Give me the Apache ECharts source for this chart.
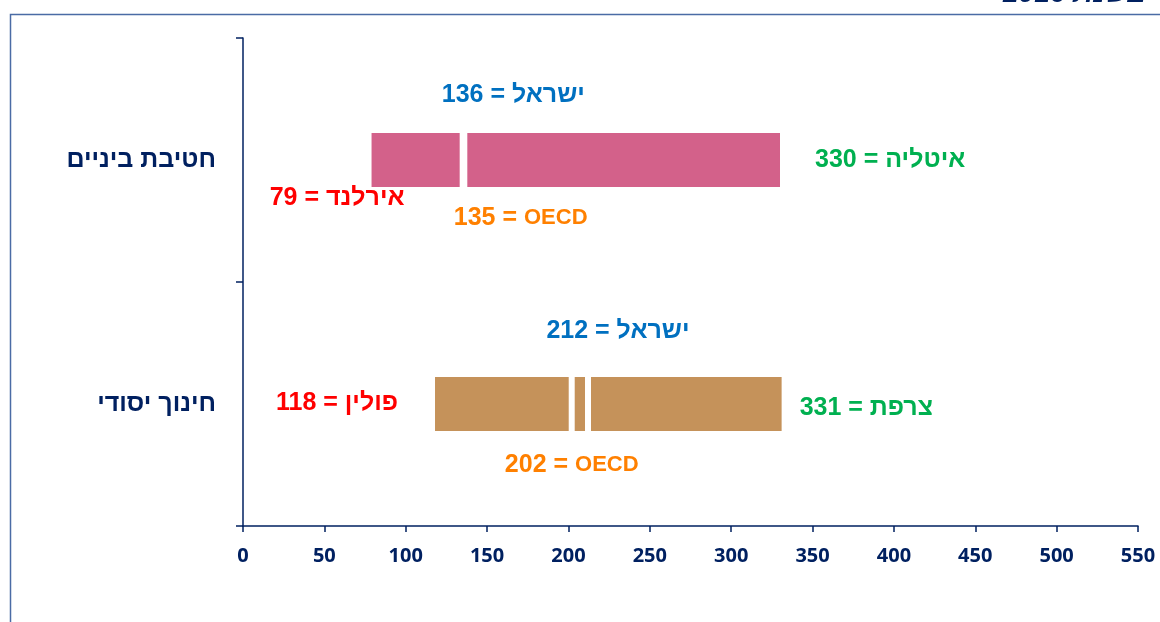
<!DOCTYPE html>
<html>
<head>
<meta charset="utf-8">
<style>
  html, body { margin: 0; padding: 0; background: #fff; }
  #chart { width: 1160px; height: 622px; }
</style>
<script src="https://cdn.jsdelivr.net/npm/echarts@6/dist/echarts.min.js"></script>
</head>
<body>
<div id="chart"></div>
<script>
// data (y category axis runs bottom to top)
const categories = ['חינוך יסודי', 'חטיבת ביניים']
const minValues = [118, 79]
const maxValues = [331, 330]
const oecdValues = [202, 135]
const israelValues = [212, 136]
const minCountries = ['פולין', 'אירלנד']
const maxCountries = ['צרפת', 'איטליה']
const xTicks = [0, 50, 100, 150, 200, 250, 300, 350, 400, 450, 500, 550]

const barColors = ['#C5925A', '#D3618A']
const navy = '#002060'
const hebFont = '"Liberation Sans", Arial, sans-serif'

// label offsets relative to the marks (px)
const layout = [
  { israel: [30, -73], oecd: [0, 61], min: [-37, -1], max: [18, 4] },
  { israel: [49, -65], oecd: [58, 58], min: [33, 38], max: [35, 0] }
]

const chart = echarts.init(document.getElementById('chart'))

function renderItem(params, api) {
  const i = params.dataIndex
  const y = api.value(0)
  const start = api.coord([minValues[i], y])
  const end = api.coord([maxValues[i], y])
  const oecd = api.coord([oecdValues[i], y])
  const isr = api.coord([israelValues[i], y])
  const h = 54
  const cy = start[1]
  const L = layout[i]
  const txt = (x, yy, text, color, align) => ({
    type: 'text',
    x: x, y: yy,
    style: {
      text: text,
      fill: color,
      font: 'bold 25px ' + hebFont,
      align: align,
      verticalAlign: 'middle'
    }
  })
  return {
    type: 'group',
    children: [
      { type: 'rect', shape: { x: start[0], y: cy - h / 2, width: end[0] - start[0], height: h },
        style: { fill: barColors[i] } },
      { type: 'rect', shape: { x: oecd[0] - 3, y: cy - h / 2 - 1, width: 6, height: h + 2 },
        style: { fill: '#fff' } },
      { type: 'rect', shape: { x: isr[0] - 3, y: cy - h / 2 - 1, width: 6, height: h + 2 },
        style: { fill: '#fff' } },
      txt(isr[0] + L.israel[0], cy + L.israel[1], israelValues[i] + ' = ישראל', '#0070C0', 'center'),
      {
        type: 'text',
        x: oecd[0] + L.oecd[0], y: cy + L.oecd[1],
        style: {
          text: '{n|' + oecdValues[i] + ' = }{o|OECD}',
          align: 'center',
          verticalAlign: 'middle',
          rich: {
            n: { fill: '#FF8000', font: 'bold 25px ' + hebFont },
            o: { fill: '#FF8000', font: 'bold 22px ' + hebFont }
          }
        }
      },
      txt(start[0] + L.min[0], cy + L.min[1], minValues[i] + ' = ' + minCountries[i], '#FF0000', 'right'),
      txt(end[0] + L.max[0], cy + L.max[1], maxValues[i] + ' = ' + maxCountries[i], '#00B050', 'left')
    ]
  }
}

chart.setOption({
  animation: false,
  graphic: [
    { type: 'polyline', shape: { points: [[10.5, 622], [10.5, 14.5], [1160, 14.5]] },
      style: { stroke: '#4A6BA5', lineWidth: 1.5, fill: null } },
    { type: 'text', x: 1003, y: 8, style: {
        text: '2016 בשנת', fill: navy, font: 'italic bold 28px ' + hebFont,
        align: 'left', verticalAlign: 'bottom' } }
  ],
  grid: { left: 243, right: 22, top: 38, bottom: 96 },
  xAxis: {
    type: 'value',
    min: 0,
    max: 550,
    interval: 50,
    splitLine: { show: false },
    axisLine: { show: true, lineStyle: { color: navy, width: 1.5 } },
    axisTick: { show: true, length: 6, lineStyle: { color: navy, width: 1.5 } },
    axisLabel: {
      margin: 20,
      color: navy,
      fontSize: 20,
      fontWeight: 'bold',
      fontFamily: '"Open Sans", sans-serif',
      formatter: v => (xTicks.indexOf(v) >= 0 ? String(v) : '')
    }
  },
  yAxis: {
    type: 'category',
    data: categories,
    axisLine: { show: true, lineStyle: { color: navy, width: 1.5 } },
    axisTick: { show: true, length: 7, lineStyle: { color: navy, width: 1.5 } },
    axisLabel: {
      margin: 27,
      color: navy,
      fontSize: 25,
      fontWeight: 'bold',
      fontFamily: hebFont
    }
  },
  series: [{
    type: 'custom',
    renderItem: renderItem,
    encode: { y: 0 },
    data: categories.map((c, i) => [i]),
    clip: false
  }]
})
</script>
</body>
</html>
